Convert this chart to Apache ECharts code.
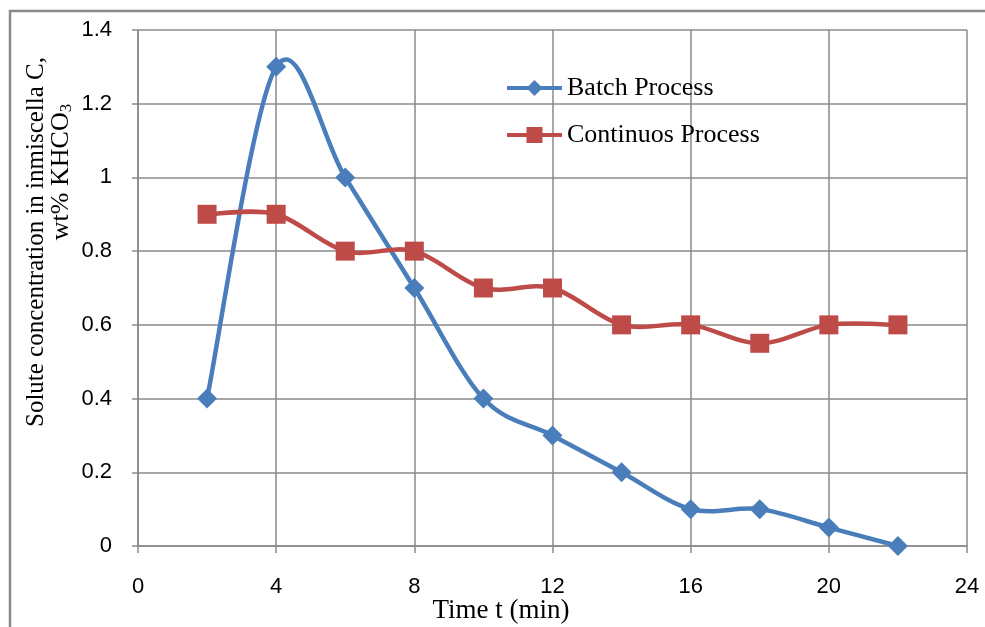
<!DOCTYPE html>
<html>
<head>
<meta charset="utf-8">
<script src="https://cdn.jsdelivr.net/npm/echarts@6/dist/echarts.min.js"></script>
<style>
html,body{margin:0;padding:0;background:#fff;}
#chart{width:985px;height:627px;}
</style>
</head>
<body>
<div id="chart"></div>
<script>
const timeValues = [2, 4, 6, 8, 10, 12, 14, 16, 18, 20, 22];
const batchValues = [0.4, 1.3, 1.0, 0.7, 0.4, 0.3, 0.2, 0.1, 0.1, 0.05, 0];
const continuousValues = [0.9, 0.9, 0.8, 0.8, 0.7, 0.7, 0.6, 0.6, 0.55, 0.6, 0.6];
const seriesNames = ['Batch Process', 'Continuos Process'];
const xTitle = 'Time t (min)';
const yTitleLine1 = 'Solute concentration in inmiscella C,';

const chart = echarts.init(document.getElementById('chart'));
const gridColor = '#8a8a8a';
const tickFont = 'Liberation Sans, Arial, sans-serif';
const serif = 'Liberation Serif, Times New Roman, serif';
const blue = '#4a7ebb';
const red = '#be4b48';

function pairs(xs, ys) { return xs.map((x, i) => [x, ys[i]]); }

// Excel-like smoothed curve: each segment is a cubic Bezier whose control
// points follow the Catmull-Rom tangents of the neighbouring data points.
function smoothSegments(xs, ys, color, width) {
  return function (params, api) {
    const i = params.dataIndex;
    const n = xs.length;
    if (i >= n - 1) return null;
    const P = j => api.coord([xs[Math.max(0, Math.min(n - 1, j))], ys[Math.max(0, Math.min(n - 1, j))]]);
    const p0 = P(i - 1), p1 = P(i), p2 = P(i + 1), p3 = P(i + 2);
    return {
      type: 'bezierCurve',
      shape: {
        x1: p1[0], y1: p1[1], x2: p2[0], y2: p2[1],
        cpx1: p1[0] + (p2[0] - p0[0]) / 6, cpy1: p1[1] + (p2[1] - p0[1]) / 6,
        cpx2: p2[0] - (p3[0] - p1[0]) / 6, cpy2: p2[1] - (p3[1] - p1[1]) / 6
      },
      style: { stroke: color, lineWidth: width, fill: null, lineCap: 'round' },
      silent: true
    };
  };
}

chart.setOption({
  animation: false,
  backgroundColor: '#fff',
  grid: { left: 138, right: 18, top: 30, bottom: 81, containLabel: false },
  legend: {
    left: 500, top: 70, orient: 'vertical',
    itemWidth: 55, itemHeight: 20, itemGap: 21,
    textStyle: { fontFamily: serif, fontSize: 26, color: '#000' },
    data: [
      { name: seriesNames[0], lineStyle: { color: blue, width: 4, opacity: 1 } },
      { name: seriesNames[1], lineStyle: { color: red, width: 4, opacity: 1 } }
    ]
  },
  xAxis: {
    type: 'value', min: 0, max: 24, interval: 4,
    axisLine: { show: true, lineStyle: { color: gridColor, width: 1.5 } },
    axisTick: { show: true, length: 7, lineStyle: { color: gridColor, width: 1.5 } },
    axisLabel: { margin: 30, fontFamily: tickFont, fontSize: 22, color: '#000' },
    splitLine: { show: true, lineStyle: { color: gridColor, width: 1.5 } }
  },
  yAxis: {
    type: 'value', min: 0, max: 1.4, interval: 0.2,
    axisLine: { show: true, lineStyle: { color: gridColor, width: 1.5 } },
    axisTick: { show: true, length: 6, lineStyle: { color: gridColor, width: 1.5 } },
    axisLabel: { margin: 26, fontFamily: tickFont, fontSize: 22, color: '#000',
      formatter: v => String(Math.round(v * 10) / 10) },
    splitLine: { show: true, lineStyle: { color: gridColor, width: 1.5 } }
  },
  graphic: [
    { type: 'polyline', shape: { points: [[10, 627], [10, 11], [985, 11]] },
      style: { stroke: '#8a8a8a', lineWidth: 2.5, fill: null }, silent: true },
    { type: 'text', x: 501, y: 611, style: { text: xTitle, font: '27px ' + serif, fill: '#000', textAlign: 'center', textVerticalAlign: 'middle' } },
    { type: 'text', x: 36, y: 242, rotation: Math.PI / 2,
      style: { text: yTitleLine1, font: '25px ' + serif, fill: '#000', textAlign: 'center', textVerticalAlign: 'middle' } },
    { type: 'text', x: 61, y: 172, rotation: Math.PI / 2,
      style: { text: '{a|wt% KHCO}{s|3}', textAlign: 'center', textVerticalAlign: 'middle',
        rich: { a: { fontFamily: serif, fontSize: 26, color: '#000' },
                s: { fontFamily: serif, fontSize: 17, color: '#000', padding: [12, 0, 0, 0] } } } }
  ],
  series: [
    {
      type: 'custom', name: 'batchCurve', coordinateSystem: 'cartesian2d',
      data: pairs(timeValues, batchValues), encode: { x: 0, y: 1 },
      renderItem: smoothSegments(timeValues, batchValues, blue, 4.5), z: 2
    },
    {
      type: 'custom', name: 'contCurve', coordinateSystem: 'cartesian2d',
      data: pairs(timeValues, continuousValues), encode: { x: 0, y: 1 },
      renderItem: smoothSegments(timeValues, continuousValues, red, 4.5), z: 4
    },
    {
      name: seriesNames[0], type: 'line',
      data: pairs(timeValues, batchValues),
      symbol: 'diamond', symbolSize: 20, showAllSymbol: true,
      lineStyle: { color: blue, width: 4, opacity: 0 },
      itemStyle: { color: blue }, z: 3
    },
    {
      name: seriesNames[1], type: 'line',
      data: pairs(timeValues, continuousValues),
      symbol: 'rect', symbolSize: 19, showAllSymbol: true,
      lineStyle: { color: red, width: 4, opacity: 0 },
      itemStyle: { color: red }, z: 5
    }
  ]
});
</script>
</body>
</html>
